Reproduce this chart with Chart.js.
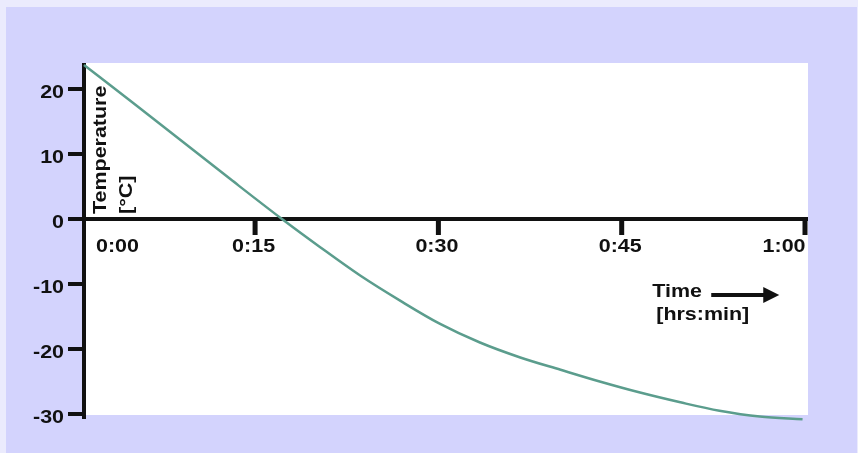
<!DOCTYPE html>
<html>
<head>
<meta charset="utf-8">
<script src="https://cdn.jsdelivr.net/npm/chart.js@4"></script>
<style>
  html, body { margin: 0; padding: 0; background: #ebebfd; }
  canvas { display: block; }
</style>
</head>
<body>
<canvas id="myChart" width="858" height="453"></canvas>
<script>
"use strict";

// data (time in minutes, temperature in °C)
const minutes = [1, 5, 9, 13, 17.2, 20.3, 23.6, 26.9, 30.1, 33.4, 36.7, 40.0, 43.2, 46.5, 49.8, 53.0, 56.3, 59.8];
const temps   = [23.7, 17.9, 12.0, 6.1, 0, -4.3, -8.7, -12.6, -16.1, -19.0, -21.3, -23.2, -25.0, -26.7, -28.2, -29.5, -30.4, -30.8];

const xTicks = [0, 15, 30, 45, 60];
const xTickLabels = ['0:00', '0:15', '0:30', '0:45', '1:00'];
const yTicks = [20, 10, 0, -10, -20, -30];
const yTickLabels = ['20', '10', '0', '-10', '-20', '-30'];

const yTitle = ['Temperature', '[°C]'];
const xTitle = ['Time', '[hrs:min]'];

const FONT = 'bold 18.5px "Liberation Sans", Arial, sans-serif';
const STRETCH = 1.16;   // the lettering in the picture is a little wide
const INK = '#111';

// text drawn slightly widened along its own direction
function wideText(ctx, txt, x, y, align) {
    ctx.save();
    ctx.translate(x, y);
    ctx.scale(STRETCH, 1);
    ctx.textAlign = align;
    ctx.fillText(txt, 0, 0);
    ctx.restore();
}

// background: light frame, lavender panel, white plot area
const backdrop = {
    id: 'backdrop',
    beforeDraw(chart) {
        const ctx = chart.ctx, a = chart.chartArea;
        ctx.save();
        ctx.fillStyle = '#ebebfd';
        ctx.fillRect(0, 0, chart.width, chart.height);
        ctx.fillStyle = '#d3d3fd';
        ctx.fillRect(6, 7, chart.width - 7, chart.height - 7);
        ctx.fillStyle = '#ffffff';
        ctx.fillRect(a.left + 2, a.top, a.right - a.left + 1, a.bottom - a.top + 1);
        ctx.restore();
    }
};

// thick axes, ticks and labels, placed through the chart scales
const axes = {
    id: 'axes',
    beforeDatasetsDraw(chart) {
        const ctx = chart.ctx, a = chart.chartArea;
        const xs = chart.scales.x, ys = chart.scales.y;
        const y0 = ys.getPixelForValue(0);
        ctx.save();
        ctx.fillStyle = INK;
        ctx.font = FONT;
        ctx.textBaseline = 'alphabetic';

        // y axis + ticks
        ctx.fillRect(a.left - 2, a.top, 4, a.bottom + 5 - a.top);
        yTicks.forEach((v, i) => {
            const py = ys.getPixelForValue(v);
            ctx.fillRect(a.left - 16, py - 2, 16, 4);
            wideText(ctx, yTickLabels[i], a.left - 20, py + 8.5, 'right');
        });

        // x axis at zero + ticks
        ctx.fillRect(a.left - 2, y0 - 2, a.right + 3 - (a.left - 2), 4);
        xTicks.forEach((v, i) => {
            const px = xs.getPixelForValue(v);
            if (v === 0) {
                wideText(ctx, xTickLabels[i], a.left + 12, y0 + 32.5, 'left');
                return;
            }
            ctx.fillRect(px - 2.5, y0, 5, 16);
            if (i === xTicks.length - 1) {
                wideText(ctx, xTickLabels[i], px + 0.5, y0 + 32.5, 'right');
            } else {
                wideText(ctx, xTickLabels[i], px - 1.5, y0 + 32.5, 'center');
            }
        });

        // y title, rotated
        ctx.save();
        ctx.translate(a.left + 22, y0 - 5);
        ctx.rotate(-Math.PI / 2);
        wideText(ctx, yTitle[0], 0, 0, 'left');
        wideText(ctx, yTitle[1], 0, 25.5, 'left');
        ctx.restore();

        // x title with arrow
        const tx = xs.getPixelForValue(47.5);
        wideText(ctx, xTitle[0], tx, y0 + 78, 'left');
        wideText(ctx, xTitle[1], tx + 4, y0 + 101, 'left');
        ctx.fillRect(tx + 59, y0 + 74, 54, 4);
        ctx.beginPath();
        ctx.moveTo(tx + 111, y0 + 68);
        ctx.lineTo(tx + 127, y0 + 76);
        ctx.lineTo(tx + 111, y0 + 84);
        ctx.closePath();
        ctx.fill();

        ctx.restore();
    }
};

const data = {
    datasets: [{
        label: 'temperature',
        data: minutes.map((m, i) => ({ x: m, y: temps[i] })),
        borderColor: '#5b9d8d',
        borderWidth: 2.5,
        pointRadius: 0,
        cubicInterpolationMode: 'monotone',
        clip: false,
        fill: false
    }]
};

const config = {
    type: 'line',
    data,
    options: {
        responsive: false,
        animation: false,
        devicePixelRatio: 1,
        layout: {
            padding: { left: 84, right: 53, top: 63, bottom: 39 }
        },
        scales: {
            x: { type: 'linear', min: 1, max: 60, display: false },
            y: { type: 'linear', min: -30, max: 24, display: false }
        },
        plugins: {
            legend: { display: false },
            tooltip: { enabled: false }
        }
    },
    plugins: [backdrop, axes]
};

const myChart = new Chart(document.getElementById('myChart'), config);
</script>
</body>
</html>
